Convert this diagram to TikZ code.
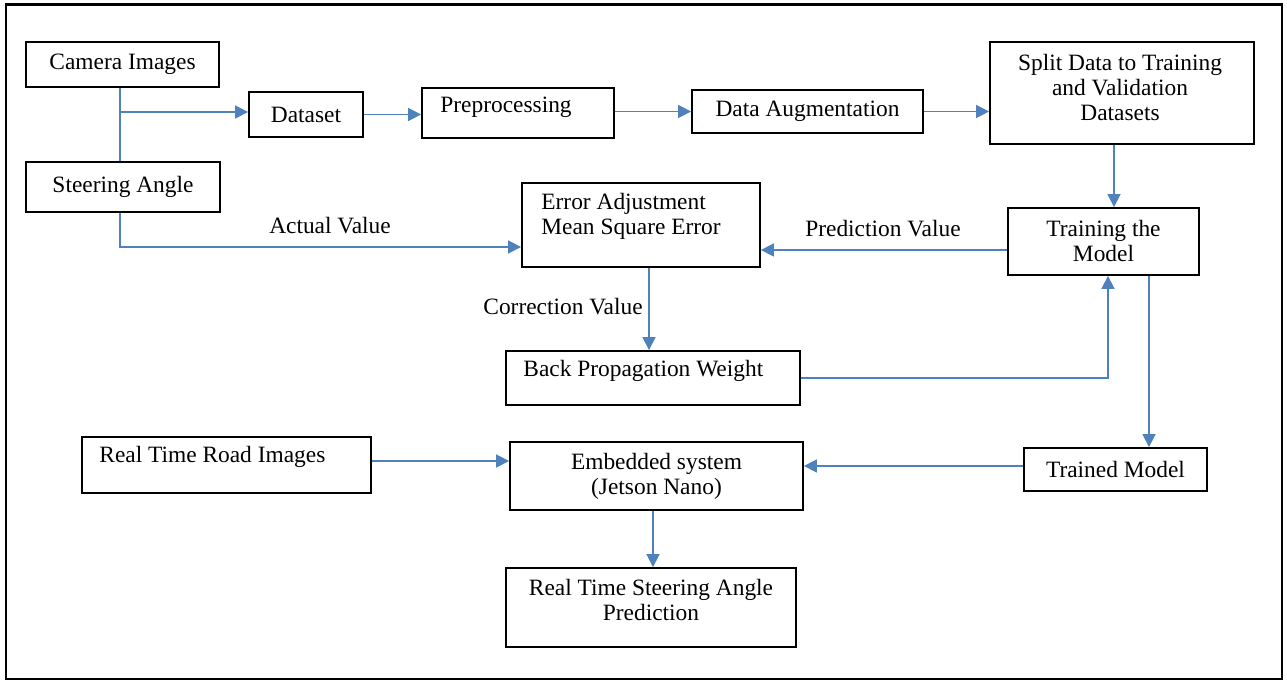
\documentclass[tikz,border=0pt]{standalone}
\usepackage{fontspec}
\setmainfont{Liberation Serif}
\usetikzlibrary{arrows.meta}
\definecolor{linkblue}{RGB}{79,129,189}
\tikzset{
  box/.style={draw=black,line width=0.9pt,inner sep=2pt,align=center},
  txt/.style={inner sep=0pt,align=left},
  link/.style={draw=linkblue,line width=0.8pt},
  flow/.style={link,-{Triangle[length=6.5pt,width=6.5pt]}},
}

\begin{document}
\begin{tikzpicture}[x=0.5pt,y=-0.5pt,font=\fontsize{11.7}{12.5}\selectfont]
  \useasboundingbox (0,0) rectangle (1287,683);
  \draw[line width=1.3pt] (6,4.5) rectangle (1282,679);

  % boxes
  \node[box,minimum width=96.5pt,minimum height=22.5pt] (cam) at (122.5,64.5) {Camera Images};
  \node[box,minimum width=97pt,minimum height=25pt] (steer) at (123,187) {Steering Angle};
  \node[box,minimum width=57pt,minimum height=22.5pt] (data) at (306,114.5) {Dataset};
  \node[box,minimum width=96pt,minimum height=25pt] (prep) at (518,113) {};
  \node[box,minimum width=115.5pt,minimum height=21.5pt] (aug) at (807.5,111.5) {Data Augmentation};
  \node[box,minimum width=132pt,minimum height=51pt] (spl) at (1122,93) {};
  \node[box,minimum width=95.5pt,minimum height=33.5pt] (train) at (1103.5,241.5) {Training the\\Model};
  \node[box,minimum width=119pt,minimum height=42pt] (err) at (641,225) {};
  \node[box,minimum width=147pt,minimum height=27pt] (bp) at (653,378) {};
  \node[box,minimum width=144.5pt,minimum height=28pt] (road) at (226.5,465) {};
  \node[box,minimum width=146.5pt,minimum height=34pt] (emb) at (656.5,476) {Embedded system\\(Jetson Nano)};
  \node[box,minimum width=91.5pt,minimum height=21.5pt] (trained) at (1115.5,469.5) {Trained Model};
  \node[box,minimum width=145pt,minimum height=39.5pt] (pred) at (651,607.5) {};

  % texts set off centre
  \node[txt,anchor=west] (preptxt) at (440,107) {Preprocessing};
  \node[txt,align=center] (spltxt) at (1120,87.5) {Split Data to Training\\and Validation\\Datasets};
  \node[txt,anchor=north west] (errtxt) at (541,193) {Error Adjustment\\Mean Square Error};
  \node[txt,anchor=west] (bptxt) at (523,371) {Back Propagation Weight};
  \node[txt,anchor=west] (roadtxt) at (99,457) {Real Time Road Images};
  \node[txt,align=center] (predtxt) at (651,600) {Real Time Steering Angle\\Prediction};

  % labels
  \node[txt] (actlbl) at (330,226) {Actual Value};
  \node[txt] (predlbl) at (883,229) {Prediction Value};
  \node[txt,anchor=east] (corlbl) at (643,307) {Correction Value};

  % helper points for the connectors
  \coordinate (jn) at (120,112);
  \coordinate (ay) at (0,247);
  \coordinate (py) at (0,250);
  \coordinate (sx) at (1114,0);
  \coordinate (cx) at (649,0);
  \coordinate (bx) at (1108,0);
  \coordinate (tx) at (1149,0);
  \coordinate (ty) at (0,466);
  \coordinate (ry) at (0,461);
  \coordinate (ex) at (653,0);

  % connectors
  \draw[link] (cam.south -| jn) -- (steer.north -| jn);
  \draw[flow] (jn) -- (jn -| data.west);
  \draw[flow] (data.east) -- (data.east -| prep.west);
  \draw[flow] (prep.east |- aug.west) -- (aug.west);
  \draw[flow] (aug.east) -- (aug.east -| spl.west);
  \draw[flow] (spl.south -| sx) -- (train.north -| sx);
  \draw[flow] (steer.south -| jn) |- (err.west |- ay);
  \draw[flow] (train.west |- py) -- (err.east |- py);
  \draw[flow] (err.south -| cx) -- (bp.north -| cx);
  \draw[flow] (bp.east) -| (train.south -| bx);
  \draw[flow] (train.south -| tx) -- (trained.north -| tx);
  \draw[flow] (trained.west |- ty) -- (emb.east |- ty);
  \draw[flow] (road.east |- ry) -- (emb.west |- ry);
  \draw[flow] (emb.south -| ex) -- (pred.north -| ex);
\end{tikzpicture}
\end{document}
